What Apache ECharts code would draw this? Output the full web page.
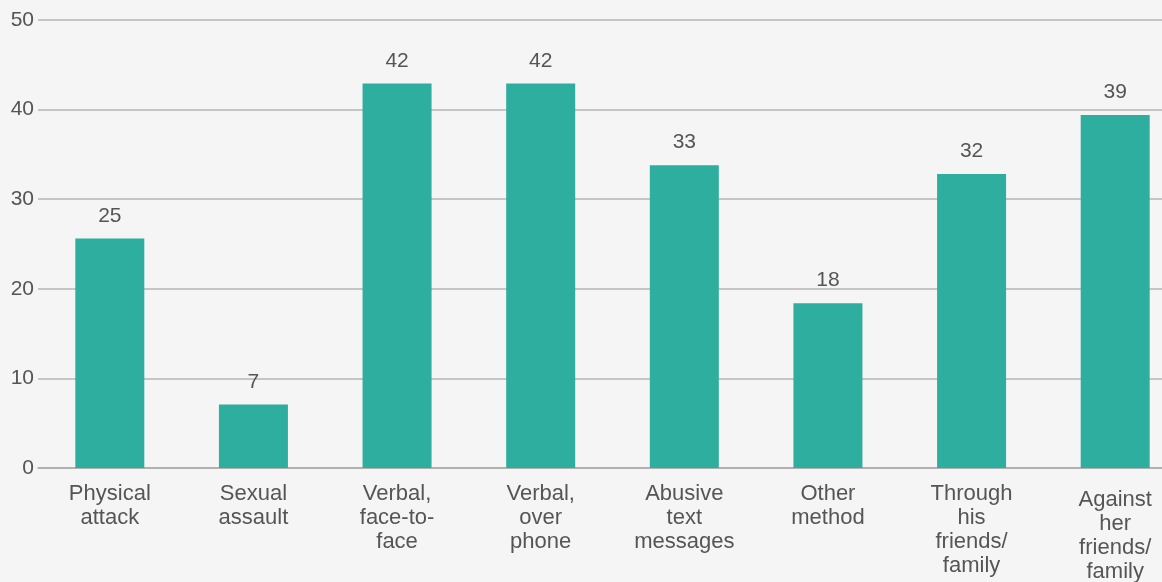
<!DOCTYPE html>
<html>
<head>
<meta charset="utf-8">
<script src="https://cdn.jsdelivr.net/npm/echarts@6/dist/echarts.min.js"></script>
<style>
    html, body { margin: 0; padding: 0; background: #f5f5f5; overflow: hidden; }
    /* the plot runs a little past the right edge of the picture */
    #chart { width: 1187px; height: 582px; }
</style>
</head>
<body>
<div id="chart"></div>
<script>
// categories (line breaks as in the original)
const categories = [
    'Physical\nattack',
    'Sexual\nassault',
    'Verbal,\nface-to-\nface',
    'Verbal,\nover\nphone',
    'Abusive\ntext\nmessages',
    'Other\nmethod',
    'Through\nhis\nfriends/\nfamily',
    'Against\nher\nfriends/\nfamily'
];
// bar heights; labels show whole numbers
const values = [25.6, 7.1, 42.9, 42.9, 33.8, 18.4, 32.8, 39.4];
const yTicks = [0, 10, 20, 30, 40, 50];

const chart = echarts.init(document.getElementById('chart'));

const textColor = '#555555';
const font = 'Arial, "Liberation Sans", sans-serif';

// last label sits a bit lower in the original
const xData = categories.map((name, i) => ({
    value: name,
    textStyle: i === categories.length - 1 ? { padding: [6, 0, 0, 0] } : {}
}));

const option = {
    backgroundColor: '#f5f5f5',
    animation: false,
    grid: {
        left: 38,
        right: 0,
        top: 20,
        bottom: 114,
        containLabel: false,
        outerBoundsMode: 'none'
    },
    xAxis: {
        type: 'category',
        data: xData,
        axisLine: { show: true, lineStyle: { color: '#aaaaaa', width: 1.5 } },
        axisTick: { show: false },
        axisLabel: {
            interval: 0,
            color: textColor,
            fontFamily: font,
            fontSize: 22,
            lineHeight: 24,
            margin: 14
        }
    },
    yAxis: {
        type: 'value',
        min: yTicks[0],
        max: yTicks[yTicks.length - 1],
        interval: 10,
        axisLine: { show: false },
        axisTick: { show: false },
        splitLine: { lineStyle: { color: '#b5b5b5', width: 1.5 } },
        axisLabel: {
            color: textColor,
            fontFamily: font,
            fontSize: 21,
            margin: 4
        }
    },
    series: [
        {
            type: 'bar',
            data: values,
            barWidth: 69,
            itemStyle: { color: '#2eae9e' },
            label: {
                show: true,
                position: 'top',
                distance: 12,
                color: textColor,
                fontFamily: font,
                fontSize: 21,
                formatter: p => Math.floor(p.value)
            }
        }
    ]
};

chart.setOption(option);
</script>
</body>
</html>
